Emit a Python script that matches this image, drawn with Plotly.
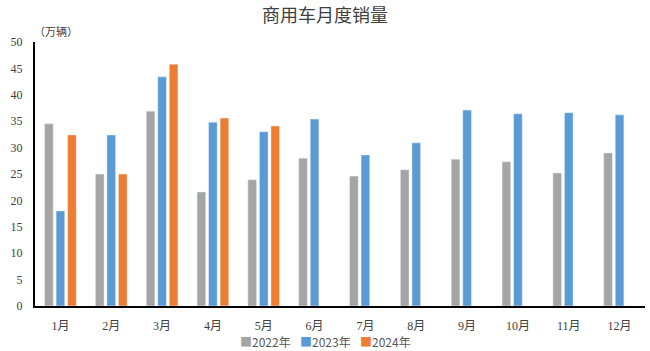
import plotly.graph_objects as go

months = ["1月", "2月", "3月", "4月", "5月", "6月", "7月", "8月", "9月", "10月", "11月", "12月"]
s2022 = [34.5, 25.0, 36.9, 21.6, 23.9, 28.0, 24.6, 25.8, 27.8, 27.3, 25.2, 29.0]
s2023 = [18.0, 32.4, 43.4, 34.8, 33.0, 35.4, 28.6, 30.9, 37.1, 36.4, 36.6, 36.2]
s2024 = [32.4, 25.0, 45.8, 35.6, 34.1, None, None, None, None, None, None, None]
yticks = [0, 5, 10, 15, 20, 25, 30, 35, 40, 45, 50]
series_names = ["2022年", "2023年", "2024年"]
colors = ["#A5A5A5", "#5B9BD5", "#ED7D31"]

font_fam = "Liberation Serif, Noto Sans CJK SC, serif"

fig = go.Figure()
for name, vals, col in zip(series_names, [s2022, s2023, s2024], colors):
    fig.add_bar(x=months, y=vals, name=name, marker_color=col)

fig.update_layout(
    width=650, height=351,
    margin=dict(l=35, r=5, t=42, b=45, autoexpand=False),
    paper_bgcolor="white", plot_bgcolor="white",
    barmode="group", bargap=0.32, bargroupgap=0.25,
    title=dict(text="商用车月度销量", x=0.5, xanchor="center", y=0.955, yanchor="middle",
               font=dict(family="Noto Sans CJK SC", size=18, color="#404040")),
    font=dict(family=font_fam, size=12, color="#404040"),
    showlegend=False,
)
fig.update_xaxes(showline=True, linecolor="black", linewidth=2, showgrid=False,
                 ticks="", ticklabelstandoff=8,
                 tickfont=dict(family=font_fam, size=12, color="#404040"))
fig.update_yaxes(range=[0, 50], tickvals=yticks, showline=True, linecolor="black", linewidth=2,
                 showgrid=False, zeroline=False, ticks="", ticklabelstandoff=8,
                 tickfont=dict(family=font_fam, size=12, color="#404040"))
fig.add_annotation(text="（万辆）", xref="paper", yref="paper", x=-0.005, y=1.005,
                   xanchor="left", yanchor="bottom", showarrow=False,
                   font=dict(family="Noto Sans CJK SC", size=11, color="#404040"))
# legend as annotations
leg_x = [238, 298, 358]
for name, col, lx in zip(series_names, colors, leg_x):
    fig.add_annotation(text=f"<span style='color:{col}'>■</span>{name}",
                       xref="paper", yref="paper", x=(lx - 35) / 610, y=-0.135,
                       xanchor="left", yanchor="middle", showarrow=False,
                       font=dict(family="Noto Sans CJK SC", size=12, color="#595959"))
fig.write_html("out.html")
